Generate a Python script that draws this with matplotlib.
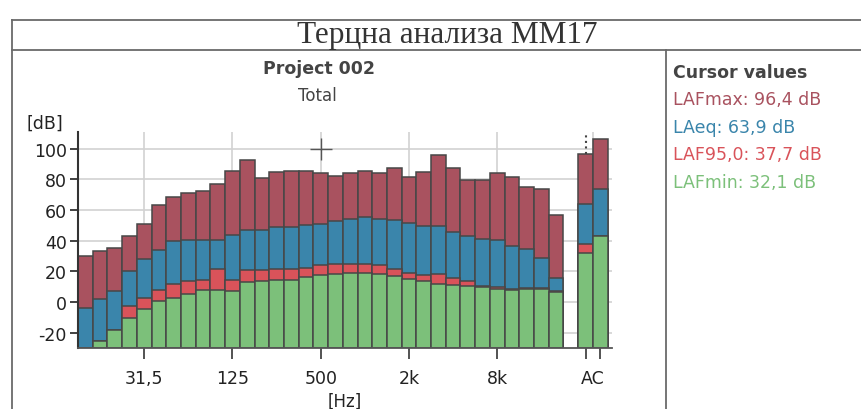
import matplotlib.pyplot as plt
from matplotlib.lines import Line2D
import numpy as np

# Data: 1/3 octave bands 12.5 Hz .. 20 kHz, then broadband A and C
bands = ['12,5', '16', '20', '25', '31,5', '40', '50', '63', '80', '100', '125',
         '160', '200', '250', '315', '400', '500', '630', '800', '1k', '1,25k',
         '1,6k', '2k', '2,5k', '3,15k', '4k', '5k', '6,3k', '8k', '10k',
         '12,5k', '16k', '20k']
broadband = ['A', 'C']

lafmax = [30.0, 33.2, 35.4, 43.0, 51.0, 63.6, 68.4, 71.0, 72.8, 77.0, 85.8,
          93.0, 81.0, 84.7, 85.8, 85.4, 84.0, 82.5, 84.0, 85.4, 84.0,
          87.3, 81.5, 85.1, 96.2, 87.3, 79.9, 79.9, 84.3, 81.5, 74.9, 73.8, 56.9]
laeq = [-3.7, 1.7, 7.4, 20.0, 27.8, 33.7, 39.7, 40.8, 40.8, 40.8, 43.9,
        47.3, 47.3, 48.9, 48.9, 50.4, 51.0, 52.8, 54.3, 55.4, 53.9,
        53.6, 51.7, 49.5, 49.5, 46.0, 43.4, 41.3, 40.2, 36.5, 34.8, 28.7, 15.6]
laf95 = [-31.0, -25.6, -18.0, -2.6, 2.8, 7.8, 11.7, 13.5, 14.1, 21.7, 14.1,
         20.6, 21.0, 21.7, 21.7, 22.4, 24.3, 25.0, 25.0, 25.0, 23.9,
         21.3, 19.1, 17.8, 18.5, 15.9, 13.5, 10.5, 9.5, 8.5, 9.0, 9.0, 7.0]
lafmin = [-31.0, -25.6, -18.0, -10.2, -4.3, 0.7, 2.8, 5.0, 7.6, 7.6, 7.2,
          13.0, 13.9, 14.1, 14.6, 16.3, 17.8, 18.5, 18.9, 18.9, 18.5,
          16.9, 15.2, 13.5, 12.0, 10.9, 10.4, 9.8, 8.7, 8.0, 8.7, 8.7, 6.5]

# broadband A / C values
bb_lafmax = [96.4, 106.4]
bb_laeq = [63.9, 73.8]
bb_laf95 = [37.7, 43.0]
bb_lafmin = [32.1, 43.0]

xtick_bands = ['31,5', '125', '500', '2k', '8k']
cursor_band = '500'
cursor_level = 100

colors = {'LAFmax': '#a9525f', 'LAeq': '#3a85ab', 'LAF95,0': '#d9535a', 'LAFmin': '#7cc07a'}

plt.rcParams['font.family'] = 'DejaVu Sans'
plt.rcParams['axes.unicode_minus'] = False

fig = plt.figure(figsize=(8.61, 4.10), dpi=100)

# outer frame lines (report template)
frame = '#6a6a6a'
W, H = 861.0, 410.0
for (x0, y0, x1, y1) in [(12, 21, 861, 21), (12, 51, 861, 51), (12, 21, 12, 410), (666, 51, 666, 410)]:
    fig.add_artist(Line2D([x0 / W, x1 / W], [1 - y0 / H, 1 - y1 / H], color=frame, lw=1.3))

fig.text(447 / W, 1 - 36 / H, 'Терцна анализа MM17', family='Liberation Serif',
         fontsize=22.5, ha='center', va='center', color='#333333')

ax = fig.add_axes([78 / W, 1 - 349 / H, (612 - 78) / W, (349 - 133) / H])

x = np.arange(len(bands))
xb = np.array([len(bands) + 1, len(bands) + 2])
ymin = -30

series = [('LAFmax', lafmax, bb_lafmax), ('LAeq', laeq, bb_laeq),
          ('LAF95,0', laf95, bb_laf95), ('LAFmin', lafmin, bb_lafmin)]
for name, vals, bb in series:
    v = np.array(vals)
    ax.bar(x, v - ymin, bottom=ymin, width=1.0, color=colors[name],
           edgecolor='#474747', linewidth=1.1, zorder=2)
    b = np.array(bb)
    ax.bar(xb, b - ymin, bottom=ymin, width=1.0, color=colors[name],
           edgecolor='#474747', linewidth=1.1, zorder=2)

# cursor marks
ax.plot(bands.index(cursor_band), cursor_level, marker='+', color='#555555',
        markersize=16, mew=1.0, zorder=3, clip_on=False)
ax.plot([xb[0], xb[0]], [bb_lafmax[0], 111], color='#444444', lw=1.5,
        ls=':', zorder=3, clip_on=False)

ax.set_xlim(-0.5, 35.8)
ax.set_ylim(ymin, 111)
ax.set_yticks(np.arange(-20, 101, 20))
ax.tick_params(axis='y', direction='out', length=6, width=1.3, color='#333333',
               labelsize=12.5, labelcolor='#222222', pad=2)

tick_pos = [bands.index(b) for b in xtick_bands]
ax.set_xticks(tick_pos + [xb.mean()])
ax.set_xticklabels(xtick_bands + ['AC'])
ax.set_xticks(list(xb), minor=True)
ax.tick_params(axis='x', which='both', direction='out', length=8, width=1.3,
               color='#444444', labelsize=12.5, labelcolor='#222222', pad=7)
ax.xaxis.get_major_ticks()[-1].tick1line.set_visible(False)
ax.xaxis.get_major_ticks()[-1].gridline.set_visible(False)

ax.grid(True, which='major', color='#d2d2d2', lw=1.2, zorder=0)
ax.set_axisbelow(True)
for s in ['top', 'right']:
    ax.spines[s].set_visible(False)
ax.spines['left'].set_color('#333333')
ax.spines['left'].set_linewidth(1.5)
ax.spines['bottom'].set_color('#555555')
ax.spines['bottom'].set_linewidth(1.3)

fig.text(319 / W, 1 - 69 / H, 'Project 002', fontsize=12.5, fontweight='bold',
         ha='center', va='center', color='#444444')
fig.text(317 / W, 1 - 96 / H, 'Total', fontsize=12, ha='center', va='center', color='#444444')
fig.text(27 / W, 1 - 124 / H, '[dB]', fontsize=12.5, ha='left', va='center', color='#222222')
fig.text(345 / W, 1 - 393 / H, '[Hz]', fontsize=12, ha='center', va='top', color='#222222')

# cursor values panel
fig.text(673 / W, 1 - 73 / H, 'Cursor values', fontsize=12.5, fontweight='bold',
         ha='left', va='center', color='#444444')
cursor_vals = [('LAFmax', bb_lafmax[0]), ('LAeq', bb_laeq[0]),
               ('LAF95,0', bb_laf95[0]), ('LAFmin', bb_lafmin[0])]
for i, (name, val) in enumerate(cursor_vals):
    fig.text(673 / W, 1 - (100 + 27.7 * i) / H, f'{name}: {val:.1f} dB'.replace('.', ','),
             fontsize=12.5, ha='left', va='center', color=colors[name])

fig.savefig('out.png', dpi=100)
